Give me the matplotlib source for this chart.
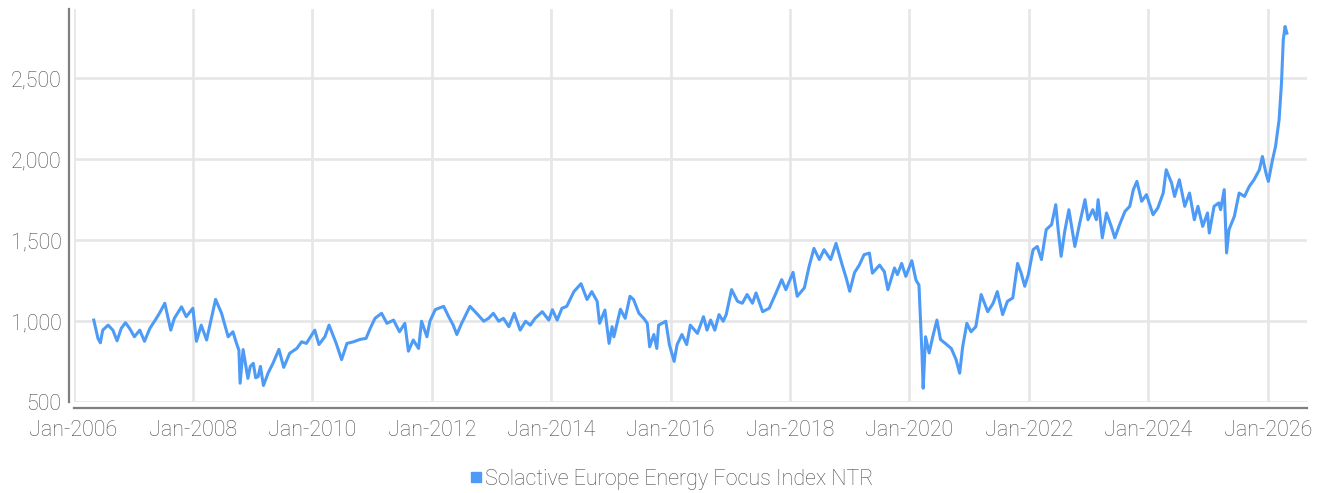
import numpy as np
import pandas as pd
import matplotlib
matplotlib.use("Agg")
import matplotlib.pyplot as plt
import matplotlib.dates as mdates
from matplotlib.lines import Line2D
from matplotlib.ticker import FuncFormatter

# ---- data ----
series_name = "Solactive Europe Energy Focus Index NTR"

dec_years = [
    2006.34, 2006.41, 2006.45, 2006.49, 2006.58, 2006.66, 2006.73, 2006.80, 2006.87, 2006.94,
    2007.02, 2007.11, 2007.19, 2007.28, 2007.37, 2007.44, 2007.53, 2007.63, 2007.69, 2007.81,
    2007.89, 2008.00, 2008.06, 2008.14, 2008.23, 2008.38, 2008.48, 2008.59, 2008.67, 2008.73,
    2008.77, 2008.79, 2008.81, 2008.84, 2008.92, 2008.96, 2009.01, 2009.05, 2009.09, 2009.13,
    2009.18, 2009.26, 2009.34, 2009.44, 2009.52, 2009.62, 2009.74, 2009.82, 2009.90, 2010.04,
    2010.11, 2010.21, 2010.28, 2010.40, 2010.49, 2010.58, 2010.69, 2010.80, 2010.90, 2010.97,
    2011.05, 2011.16, 2011.25, 2011.36, 2011.46, 2011.55, 2011.61, 2011.69, 2011.78, 2011.83,
    2011.92, 2011.97, 2012.06, 2012.20, 2012.28, 2012.36, 2012.42, 2012.50, 2012.64, 2012.75,
    2012.87, 2012.95, 2013.03, 2013.12, 2013.20, 2013.29, 2013.38, 2013.48, 2013.57, 2013.65,
    2013.73, 2013.85, 2013.96, 2014.02, 2014.10, 2014.18, 2014.26, 2014.38, 2014.50, 2014.60,
    2014.68, 2014.77, 2014.81, 2014.90, 2014.97, 2015.02, 2015.05, 2015.16, 2015.24, 2015.32,
    2015.38, 2015.47, 2015.55, 2015.61, 2015.65, 2015.72, 2015.77, 2015.80, 2015.92, 2015.98,
    2016.06, 2016.11, 2016.19, 2016.27, 2016.33, 2016.45, 2016.55, 2016.61, 2016.67, 2016.74,
    2016.81, 2016.88, 2016.93, 2017.02, 2017.12, 2017.20, 2017.28, 2017.37, 2017.43, 2017.54,
    2017.65, 2017.76, 2017.86, 2017.93, 2018.05, 2018.12, 2018.24, 2018.32, 2018.40, 2018.49,
    2018.57, 2018.68, 2018.77, 2018.88, 2018.94, 2019.00, 2019.08, 2019.16, 2019.24, 2019.33,
    2019.38, 2019.50, 2019.58, 2019.64, 2019.75, 2019.80, 2019.87, 2019.94, 2020.04, 2020.11,
    2020.16, 2020.18, 2020.21, 2020.23, 2020.27, 2020.33, 2020.39, 2020.46, 2020.52, 2020.60,
    2020.70, 2020.78, 2020.84, 2020.89, 2020.96, 2021.03, 2021.11, 2021.20, 2021.31, 2021.40,
    2021.47, 2021.56, 2021.64, 2021.73, 2021.81, 2021.87, 2021.93, 2021.99, 2022.07, 2022.14,
    2022.21, 2022.29, 2022.38, 2022.45, 2022.49, 2022.54, 2022.60, 2022.67, 2022.77, 2022.85,
    2022.94, 2022.99, 2023.07, 2023.13, 2023.16, 2023.23, 2023.30, 2023.38, 2023.44, 2023.52,
    2023.61, 2023.69, 2023.75, 2023.81, 2023.89, 2023.97, 2024.08, 2024.16, 2024.25, 2024.30,
    2024.39, 2024.44, 2024.52, 2024.61, 2024.69, 2024.77, 2024.83, 2024.91, 2024.99, 2025.02,
    2025.10, 2025.18, 2025.21, 2025.27, 2025.31, 2025.35, 2025.44, 2025.52, 2025.61, 2025.69,
    2025.77, 2025.86, 2025.91, 2025.97, 2026.01, 2026.08, 2026.13, 2026.19, 2026.23, 2026.26,
    2026.29, 2026.32,
]

index_values = [
    1006, 893, 866, 944, 975, 944, 878, 955, 990, 955,
    903, 944, 875, 955, 1006, 1048, 1110, 944, 1017, 1088,
    1027, 1079, 875, 975, 883, 1134, 1048, 903, 934, 862,
    820, 616, 700, 824, 646, 720, 739, 650, 656, 720,
    602, 680, 739, 825, 714, 801, 831, 872, 862, 944,
    855, 903, 975, 862, 762, 862, 872, 887, 893, 955,
    1017, 1048, 986, 1006, 934, 986, 814, 883, 831, 999,
    903, 999, 1071, 1091, 1030, 975, 917, 986, 1091, 1048,
    999, 1017, 1048, 999, 1017, 965, 1048, 944, 999, 975,
    1017, 1058, 1006, 1070, 1006, 1079, 1091, 1182, 1231, 1133,
    1182, 1122, 986, 1068, 862, 965, 903, 1073, 1017, 1153,
    1133, 1048, 1017, 986, 841, 917, 831, 975, 999, 855,
    751, 855, 917, 855, 975, 924, 1027, 944, 1006, 944,
    1040, 999, 1040, 1194, 1122, 1110, 1164, 1110, 1174, 1058,
    1079, 1170, 1256, 1194, 1301, 1153, 1205, 1339, 1449, 1380,
    1441, 1380, 1480, 1339, 1267, 1184, 1299, 1346, 1410, 1420,
    1296, 1346, 1305, 1194, 1328, 1287, 1356, 1276, 1373, 1253,
    1222, 1048, 800, 585, 903, 803, 903, 1006, 886, 862,
    831, 762, 678, 841, 986, 934, 965, 1164, 1058, 1110,
    1182, 1040, 1122, 1143, 1356, 1297, 1215, 1287, 1441, 1461,
    1380, 1565, 1596, 1719, 1565, 1400, 1554, 1688, 1461, 1603,
    1750, 1626, 1688, 1626, 1750, 1514, 1668, 1585, 1514, 1596,
    1678, 1709, 1812, 1863, 1740, 1781, 1657, 1699, 1791, 1935,
    1853, 1770, 1873, 1709, 1791, 1626, 1709, 1585, 1668, 1544,
    1709, 1730, 1688, 1812, 1421, 1565, 1647, 1791, 1770, 1832,
    1873, 1935, 2017, 1914, 1863, 1997, 2079, 2244, 2470, 2738,
    2820, 2779,
]

x_tick_years = [2006, 2008, 2010, 2012, 2014, 2016, 2018, 2020, 2022, 2024, 2026]
y_ticks = [500, 1000, 1500, 2000, 2500]


def dec_to_date(y):
    yr = int(np.floor(y))
    start = pd.Timestamp(year=yr, month=1, day=1)
    end = pd.Timestamp(year=yr + 1, month=1, day=1)
    return start + (end - start) * (y - yr)


dates = pd.to_datetime([dec_to_date(y) for y in dec_years])

# ---- styling ----
plt.rcParams["font.family"] = ["Roboto", "DejaVu Sans"]
plt.rcParams["font.weight"] = "light"
TEXT_C = "#4d4d4d"
LINE_C = "#4d9bf6"
GRID_C = "#e6e6e6"
AXIS_C = "#7f7f7f"
FS = 15.5

fig = plt.figure(figsize=(13.25, 4.93), dpi=100)
ax = fig.add_axes([73.5 / 1325, 1 - 402 / 493, (1307 - 73.5) / 1325, (402 - 9) / 493])

ax.plot(dates, index_values, color=LINE_C, linewidth=2.2, solid_joinstyle="round")

ax.set_xlim(pd.Timestamp("2006-01-01"), pd.Timestamp("2026-08-29"))
ax.set_ylim(500, 2928)

ax.set_xticks([pd.Timestamp(year=y, month=1, day=1) for y in x_tick_years])
ax.xaxis.set_major_formatter(mdates.DateFormatter("Jan-%Y"))
ax.set_yticks(y_ticks)
ax.yaxis.set_major_formatter(FuncFormatter(lambda v, p: f"{int(v):,}"))

ax.grid(True, color=GRID_C, linewidth=1.9)
ax.set_axisbelow(True)

for s in ["top", "right"]:
    ax.spines[s].set_visible(False)
ax.spines["left"].set_position(("outward", 3.6))
ax.spines["bottom"].set_position(("outward", 4.3))
for s in ["left", "bottom"]:
    ax.spines[s].set_color(AXIS_C)
    ax.spines[s].set_linewidth(1.6)

ax.tick_params(axis="both", length=0, labelsize=FS, labelcolor=TEXT_C)
ax.tick_params(axis="y", pad=5)
ax.tick_params(axis="x", pad=9)

handle = Line2D([], [], marker="s", color=LINE_C, linestyle="none", markersize=7, label=series_name)
fig.legend(handles=[handle], loc="center", bbox_to_anchor=(671 / 1325, 1 - 479 / 493),
           frameon=False, fontsize=FS, labelcolor=TEXT_C, handletextpad=0.05,
           handlelength=0.7, borderaxespad=0)

fig.savefig("out.png", dpi=100)
